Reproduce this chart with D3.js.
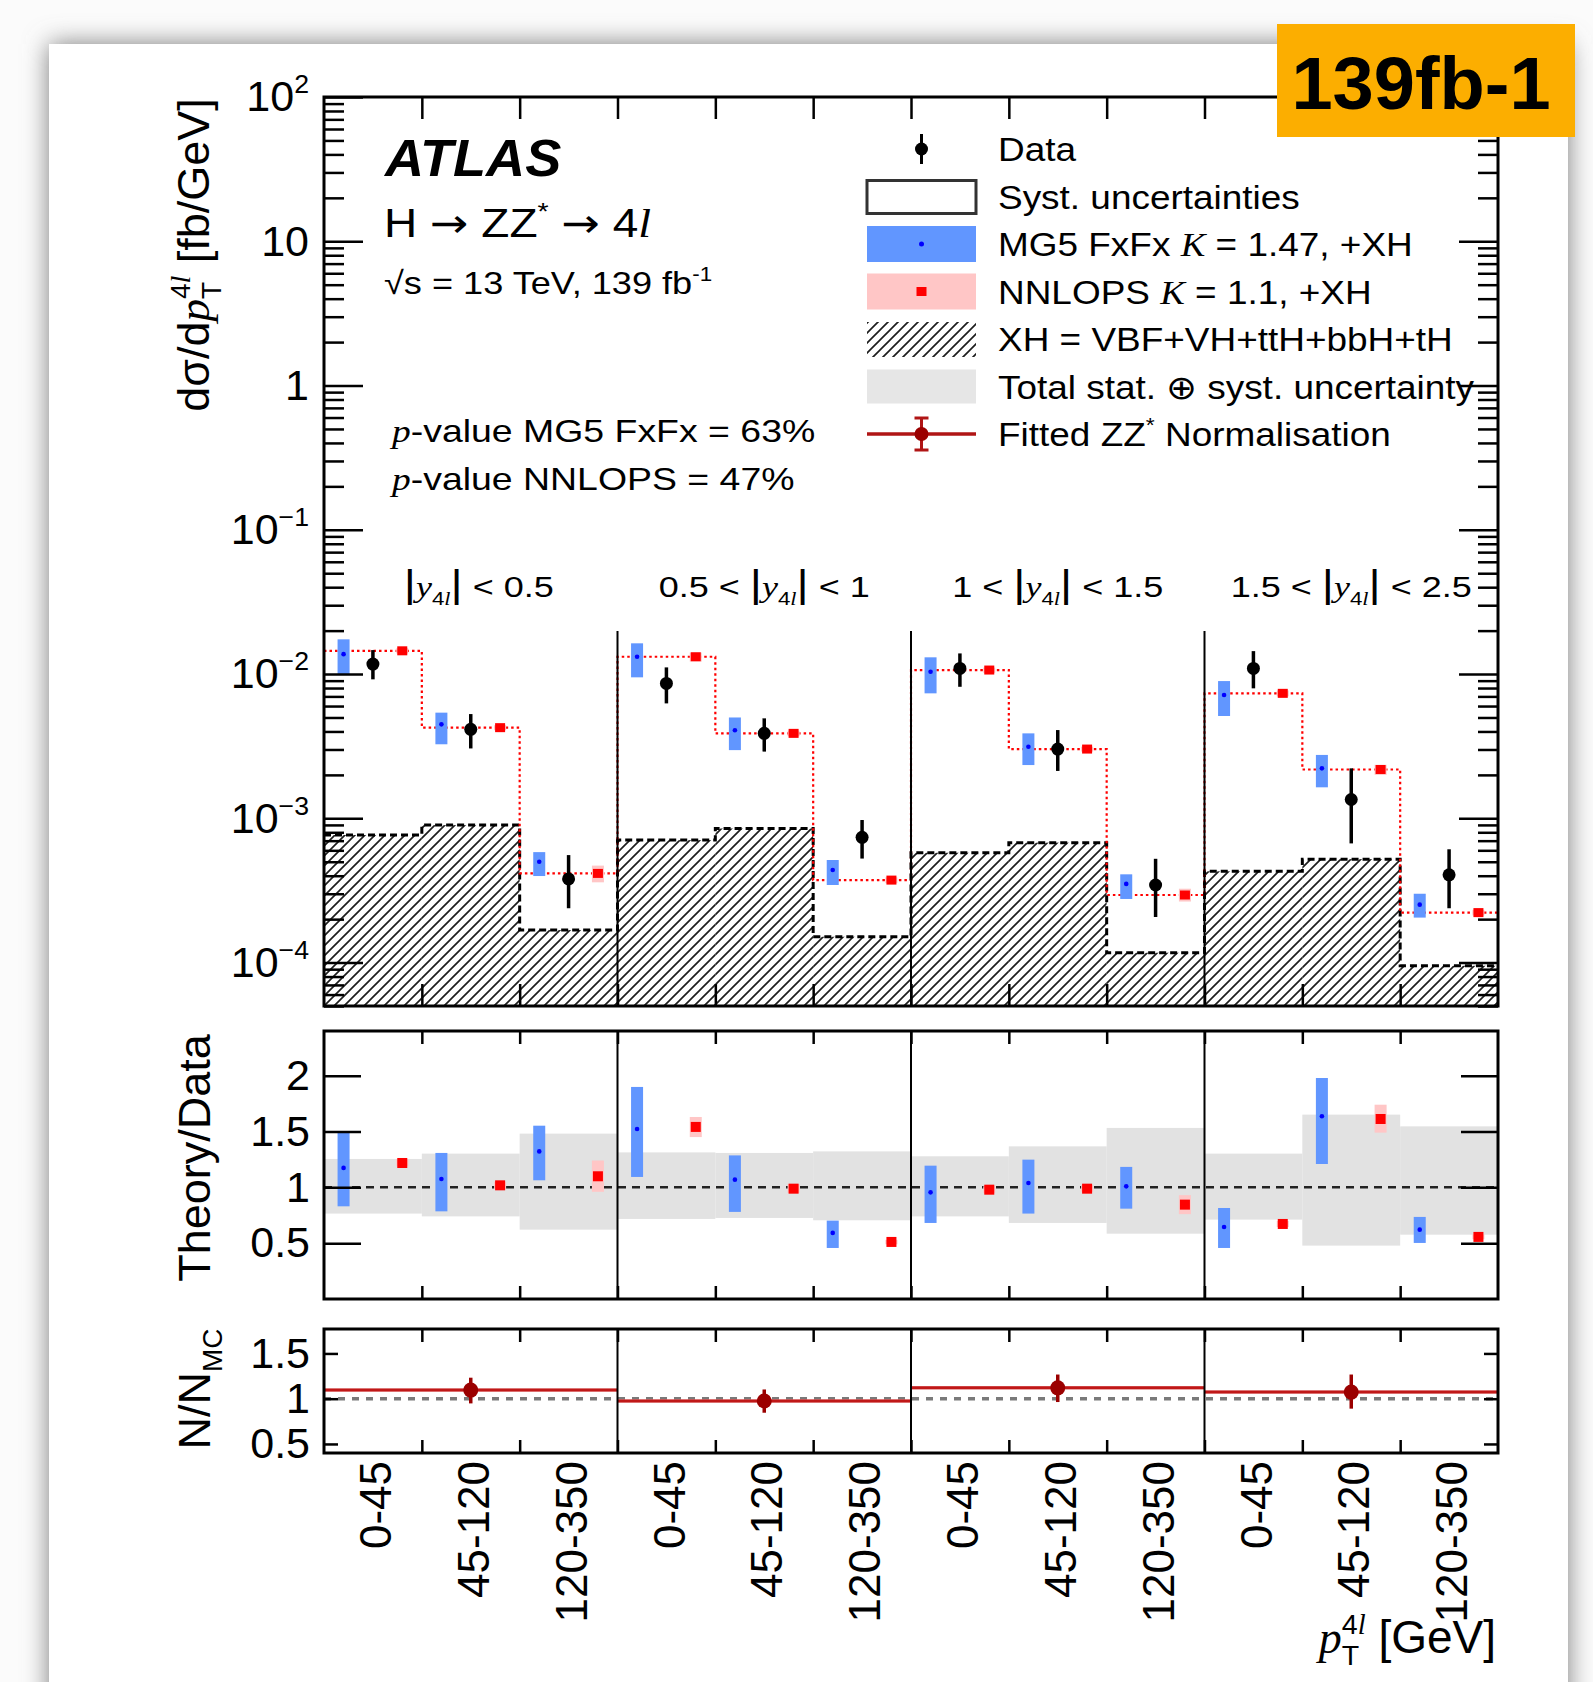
<!DOCTYPE html>
<html>
<head>
<meta charset="utf-8">
<title>ATLAS H to ZZ* to 4l, pT4l in |y4l| slices</title>
<script src="https://cdn.jsdelivr.net/npm/d3@7"></script>
<style>
  body { margin: 0; background: #fbfbfb; }
  svg { display: block; }
</style>
</head>
<body>
<svg id="chart" width="1593" height="1682"></svg>
<script>
// Bin layout: 4 rapidity slices, 3 pT bins each.
const rapidityLow = ["", "0.5", "1", "1.5"];
const rapidityHigh = ["0.5", "1", "1.5", "2.5"];
const ptBins = ["0-45", "45-120", "120-350"];

// Measured d(sigma)/dpT [fb/GeV] and total uncertainty band.
const dataVal = [0.01173, 4.14e-3, 3.8e-4, 8.61e-3, 3.88e-3, 7.38e-4, 0.01094, 3.02e-3, 3.45e-4, 0.01094, 1.35e-3, 4.06e-4];
const dataHi  = [0.01466, 5.28e-3, 5.56e-4, 0.01112, 4.93e-3, 9.73e-4, 0.0139, 4.09e-3, 5.24e-4, 0.01442, 2.22e-3, 6.1e-4];
const dataLo  = [0.00919, 3.05e-3, 2.38e-4, 6.26e-3, 2.9e-3, 5.26e-4, 8.16e-3, 2.13e-3, 2.07e-4, 7.96e-3, 6.7e-4, 2.38e-4];

// MG5 FxFx prediction.
const mg5Val = [0.01374, 4.48e-3, 5.0e-4, 0.01318, 4.08e-3, 4.38e-4, 0.01037, 3.13e-3, 3.51e-4, 7.15e-3, 2.22e-3, 2.52e-4];
const mg5Hi  = [0.0174, 5.4e-3, 5.83e-4, 0.01633, 5.0e-3, 5.14e-4, 0.01306, 3.88e-3, 4.09e-4, 8.94e-3, 2.75e-3, 3.0e-4];
const mg5Lo  = [0.00984, 3.26e-3, 3.98e-4, 0.00949, 2.97e-3, 3.45e-4, 7.35e-3, 2.34e-3, 2.76e-4, 5.12e-3, 1.64e-3, 2.05e-4];

// NNLOPS prediction.
const nnlopsVal = [0.01449, 4.25e-3, 4.15e-4, 0.01318, 3.88e-3, 3.73e-4, 0.01066, 3.02e-3, 2.94e-4, 7.35e-3, 2.18e-3, 2.22e-4];
const nnlopsHi  = [0.0151, 4.42e-3, 4.7e-4, 0.0141, 4.05e-3, 3.9e-4, 0.0111, 3.14e-3, 3.25e-4, 7.7e-3, 2.35e-3, 2.32e-4];
const nnlopsLo  = [0.0139, 4.08e-3, 3.6e-4, 0.0122, 3.71e-3, 3.55e-4, 0.0102, 2.9e-3, 2.65e-4, 7.0e-3, 2.0e-3, 2.12e-4];

// XH = VBF+VH+ttH+bbH+tH contribution.
const xhVal = [7.66e-4, 8.97e-4, 1.68e-4, 7.06e-4, 8.5e-4, 1.51e-4, 5.77e-4, 6.78e-4, 1.17e-4, 4.29e-4, 5.21e-4, 9.5e-5];

// Theory/Data ratio panel.
const mg5Ratio   = [1.174, 1.075, 1.322, 1.523, 1.069, 0.592, 0.955, 1.039, 1.009, 0.645, 1.636, 0.621];
const mg5RatioHi = [1.487, 1.308, 1.552, 1.899, 1.286, 0.702, 1.194, 1.248, 1.183, 0.815, 1.979, 0.735];
const mg5RatioLo = [0.83, 0.785, 1.063, 1.093, 0.78, 0.457, 0.681, 0.765, 0.809, 0.457, 1.209, 0.502];
const nnlopsRatio   = [1.218, 1.018, 1.099, 1.541, 0.988, 0.511, 0.979, 0.988, 0.845, 0.672, 1.612, 0.556];
const nnlopsRatioHi = [1.25, 1.05, 1.24, 1.63, 1.03, 0.53, 1.01, 1.02, 0.93, 0.70, 1.74, 0.58];
const nnlopsRatioLo = [1.19, 0.985, 0.96, 1.45, 0.95, 0.49, 0.95, 0.96, 0.76, 0.645, 1.49, 0.535];
const totUncHi = [1.254, 1.302, 1.481, 1.313, 1.308, 1.322, 1.278, 1.367, 1.532, 1.302, 1.651, 1.546];
const totUncLo = [0.765, 0.74, 0.621, 0.717, 0.726, 0.705, 0.74, 0.681, 0.585, 0.711, 0.478, 0.576];

// Fitted ZZ* normalisation per rapidity slice.
const normVal = [1.095, 0.974, 1.12, 1.073];
const normHi  = [1.232, 1.102, 1.267, 1.267];
const normLo  = [0.948, 0.845, 0.963, 0.89];

// Tick values.
const mainMajor = [1e-4, 1e-3, 1e-2, 1e-1, 1, 10, 100];
const ratioTicks = [0.5, 1, 1.5, 2];
const normTicks = [0.5, 1, 1.5];

const legendLabels = [
  [["Data"]],
  [["Syst. uncertainties"]],
  [["MG5 FxFx "], ["K", "i"], [" = 1.47, +XH"]],
  [["NNLOPS "], ["K", "i"], [" = 1.1, +XH"]],
  [["XH = VBF+VH+ttH+bbH+tH"]],
  [["Total stat. \u2295 syst. uncertainty"]],
  [["Fitted ZZ"], ["*", "sup"], [" Normalisation"]]
];

const W = 1593, H = 1682;
const SANS = "'Liberation Sans', Arial, Helvetica, sans-serif";
const SERIF = "'Liberation Serif', 'Times New Roman', serif";
const BLUE = "#6196ff", PINK = "#ffc6c6", GREY = "#e2e2e2", DARKRED = "#9b0000";
const nBins = rapidityLow.length * ptBins.length;
const xTickLabels = d3.range(nBins).map(i => ptBins[i % ptBins.length]);

const frame = { left: 324, right: 1498 };
const mainBox = { top: 97, bottom: 1006 };
const ratioBox = { top: 1031, bottom: 1299 };
const normBox = { top: 1329, bottom: 1453 };

const x = d3.scaleLinear().domain([0, nBins]).range([frame.left, frame.right]);
const yMain = d3.scaleLog().domain([5e-5, 100]).range([mainBox.bottom, mainBox.top]);
const yRatio = d3.scaleLinear().domain([0, 2.4]).range([ratioBox.bottom, ratioBox.top]);
const yNorm = d3.scaleLinear().domain([0.4, 1.77]).range([normBox.bottom, normBox.top]);
const binW = x(1) - x(0);
const mgOff = 0.2, dataOff = 0.5, nnOff = 0.8;

// Appends tspans. Style flags: "i" italic serif, "sup"/"sub" small shifted,
// "arrow" wide arrow glyph, "bar" tall vertical bar.
function addRich(textSel, parts, fs) {
  let shift = 0;
  parts.forEach(([t, style = "", dx]) => {
    const ts = textSel.append("tspan").text(t).attr("font-style", "normal");
    let target = 0, size = fs;
    if (style === "arrow") ts.attr("font-family", "'DejaVu Sans', sans-serif");
    else if (style === "bar") size = 1.3 * fs;
    else {
      if (style.includes("i")) ts.attr("font-family", SERIF).attr("font-style", "italic");
      if (style.includes("sup")) { target = -0.42 * fs; size = 0.62 * fs; }
      if (style.includes("sub")) { target = 0.26 * fs; size = 0.62 * fs; }
    }
    ts.attr("font-size", size);
    if (target !== shift) ts.attr("dy", target - shift);
    if (dx !== undefined) ts.attr("dx", dx);
    shift = target;
  });
}

function label(parent, px, py, parts, fs, opts = {}) {
  const g = parent.append("g")
    .attr("transform", `translate(${px},${py}) rotate(${opts.rotate || 0}) scale(${opts.sx || 1},1)`);
  const t = g.append("text").attr("font-size", fs)
    .attr("text-anchor", opts.anchor || "start")
    .attr("font-weight", opts.weight || "normal");
  addRich(t, parts, fs);
  if (opts.style) t.selectAll("tspan").attr("font-style", opts.style);
  return t;
}

const svg = d3.select("#chart").attr("font-family", SANS);
const defs = svg.append("defs");
defs.append("filter").attr("id", "shadow")
  .attr("x", "-5%").attr("y", "-5%").attr("width", "110%").attr("height", "110%")
  .append("feGaussianBlur").attr("stdDeviation", 13);
const hatch = defs.append("pattern").attr("id", "hatch")
  .attr("patternUnits", "userSpaceOnUse").attr("width", 10).attr("height", 10);
hatch.append("path").attr("d", "M-2,2 L2,-2 M0,10 L10,0 M8,12 L12,8")
  .attr("stroke", "#1e1e1e").attr("stroke-width", 1.7);

// Page and card with shadow.
svg.append("rect").attr("width", W).attr("height", H).attr("fill", "#fbfbfb");
svg.append("rect").attr("x", 49).attr("y", 44).attr("width", 1519).attr("height", 1720)
  .attr("fill", "#7a7a7a").attr("filter", "url(#shadow)");
svg.append("rect").attr("x", 49).attr("y", 44).attr("width", 1519).attr("height", 1720).attr("fill", "#fff");

// ---------------- main panel ----------------
const gMain = svg.append("g");
gMain.selectAll(".xh").data(xhVal).join("rect")
  .attr("x", (d, i) => x(i)).attr("width", binW)
  .attr("y", d => yMain(d)).attr("height", d => mainBox.bottom - yMain(d))
  .attr("fill", "url(#hatch)");

const stepPoints = vals => vals.map((v, i) => [i, v]).concat([[vals.length, vals[vals.length - 1]]]);
const stepLine = d3.line().x(d => x(d[0])).y(d => yMain(d[1])).curve(d3.curveStepAfter);

gMain.append("path").attr("d", stepLine(stepPoints(xhVal)))
  .attr("fill", "none").attr("stroke", "#000").attr("stroke-width", 3).attr("stroke-dasharray", "7 4");
gMain.append("path").attr("d", stepLine(stepPoints(nnlopsVal)))
  .attr("fill", "none").attr("stroke", "#ff0000").attr("stroke-width", 2.2).attr("stroke-dasharray", "2.5 3");

gMain.selectAll(".mg5").data(mg5Val).join("rect")
  .attr("x", (d, i) => x(i + mgOff) - 6).attr("width", 12)
  .attr("y", (d, i) => yMain(mg5Hi[i])).attr("height", (d, i) => yMain(mg5Lo[i]) - yMain(mg5Hi[i]))
  .attr("fill", BLUE);
gMain.selectAll(".mg5dot").data(mg5Val).join("circle")
  .attr("cx", (d, i) => x(i + mgOff)).attr("cy", d => yMain(d)).attr("r", 2.3).attr("fill", "#0000ff");

gMain.selectAll(".nnband").data(nnlopsVal).join("rect")
  .attr("x", (d, i) => x(i + nnOff) - 6).attr("width", 12)
  .attr("y", (d, i) => yMain(nnlopsHi[i])).attr("height", (d, i) => yMain(nnlopsLo[i]) - yMain(nnlopsHi[i]))
  .attr("fill", PINK);
gMain.selectAll(".nn").data(nnlopsVal).join("rect")
  .attr("x", (d, i) => x(i + nnOff) - 5).attr("width", 10)
  .attr("y", d => yMain(d) - 4.5).attr("height", 9).attr("fill", "#ff0000");

gMain.selectAll(".derr").data(dataVal).join("line")
  .attr("x1", (d, i) => x(i + dataOff)).attr("x2", (d, i) => x(i + dataOff))
  .attr("y1", (d, i) => yMain(dataHi[i])).attr("y2", (d, i) => yMain(dataLo[i]))
  .attr("stroke", "#000").attr("stroke-width", 3.5);
gMain.selectAll(".dpt").data(dataVal).join("circle")
  .attr("cx", (d, i) => x(i + dataOff)).attr("cy", d => yMain(d)).attr("r", 6.5).attr("fill", "#000");

// slice separators and labels
const sliceEdges = d3.range(1, rapidityLow.length).map(p => p * ptBins.length);
gMain.selectAll(".sep").data(sliceEdges).join("line")
  .attr("x1", d => x(d)).attr("x2", d => x(d)).attr("y1", 631).attr("y2", mainBox.bottom)
  .attr("stroke", "#000").attr("stroke-width", 2);

rapidityLow.forEach((lo, p) => {
  const parts = [[lo ? lo + " < " : ""], ["|", "bar"], ["y", "i"], ["4", "sub"], ["l", "subi"], ["|", "bar"], [" < " + rapidityHigh[p]]];
  label(gMain, x(p * 3 + 1.5) + (p === 0 ? 8 : 0), 597, parts, 30, { anchor: "middle", sx: 1.2 });
});

// axes of main panel
function styleAxis(g) {
  g.select(".domain").remove();
  g.selectAll(".tick line").attr("stroke", "#000").attr("stroke-width", 2.5);
  g.attr("font-family", SANS).attr("font-size", 43);
}
const minorLog = [];
for (let e = -5; e < 2; e++) for (let m = 2; m <= 9; m++) {
  const v = m * Math.pow(10, e);
  if (v >= 5e-5 && v <= 100) minorLog.push(v);
}
const gYL = svg.append("g").attr("transform", `translate(${frame.left},0)`)
  .call(d3.axisLeft(yMain).tickValues(mainMajor).tickSizeInner(-39).tickSizeOuter(0).tickPadding(15).tickFormat(""));
styleAxis(gYL);
gYL.selectAll(".tick text").each(function (d) {
  const e = Math.round(Math.log10(d));
  const t = d3.select(this);
  if (e === 0) addRich(t, [["1"]], 43);
  else if (e === 1) addRich(t, [["10"]], 43);
  else addRich(t, [["10"], [e < 0 ? "\u2212" + (-e) : String(e), "sup"]], 43);
});
svg.append("g").attr("transform", `translate(${frame.left},0)`)
  .call(d3.axisLeft(yMain).tickValues(minorLog).tickSizeInner(-20).tickSizeOuter(0).tickFormat(""))
  .call(styleAxis);
svg.append("g").attr("transform", `translate(${frame.right},0)`)
  .call(d3.axisRight(yMain).tickValues(mainMajor).tickSizeInner(-39).tickSizeOuter(0).tickFormat(""))
  .call(styleAxis);
svg.append("g").attr("transform", `translate(${frame.right},0)`)
  .call(d3.axisRight(yMain).tickValues(minorLog).tickSizeInner(-20).tickSizeOuter(0).tickFormat(""))
  .call(styleAxis);

const binEdges = d3.range(1, nBins);
function edgeTicks(yTop, yBottom, len) {
  svg.append("g").attr("transform", `translate(0,${yBottom})`)
    .call(d3.axisBottom(x).tickValues(binEdges).tickSizeInner(-len).tickSizeOuter(0).tickFormat(""))
    .call(styleAxis);
  svg.append("g").attr("transform", `translate(0,${yTop})`)
    .call(d3.axisTop(x).tickValues(binEdges).tickSizeInner(-len).tickSizeOuter(0).tickFormat(""))
    .call(styleAxis);
}
edgeTicks(mainBox.top, mainBox.bottom, 22);

svg.append("rect").attr("x", frame.left).attr("y", mainBox.top)
  .attr("width", frame.right - frame.left).attr("height", mainBox.bottom - mainBox.top)
  .attr("fill", "none").attr("stroke", "#000").attr("stroke-width", 3);

// ---------------- ratio panel ----------------
const gRatio = svg.append("g");
gRatio.selectAll(".tot").data(totUncHi).join("rect")
  .attr("x", (d, i) => x(i)).attr("width", binW)
  .attr("y", d => yRatio(d)).attr("height", (d, i) => yRatio(totUncLo[i]) - yRatio(d))
  .attr("fill", GREY);
gRatio.append("line").attr("x1", frame.left).attr("x2", frame.right)
  .attr("y1", yRatio(1)).attr("y2", yRatio(1))
  .attr("stroke", "#222").attr("stroke-width", 2.5).attr("stroke-dasharray", "8 6");
gRatio.selectAll(".mg5r").data(mg5Ratio).join("rect")
  .attr("x", (d, i) => x(i + mgOff) - 6).attr("width", 12)
  .attr("y", (d, i) => yRatio(mg5RatioHi[i])).attr("height", (d, i) => yRatio(mg5RatioLo[i]) - yRatio(mg5RatioHi[i]))
  .attr("fill", BLUE);
gRatio.selectAll(".mg5rdot").data(mg5Ratio).join("circle")
  .attr("cx", (d, i) => x(i + mgOff)).attr("cy", d => yRatio(d)).attr("r", 2.3).attr("fill", "#0000ff");
gRatio.selectAll(".nnrband").data(nnlopsRatio).join("rect")
  .attr("x", (d, i) => x(i + nnOff) - 6).attr("width", 12)
  .attr("y", (d, i) => yRatio(nnlopsRatioHi[i])).attr("height", (d, i) => yRatio(nnlopsRatioLo[i]) - yRatio(nnlopsRatioHi[i]))
  .attr("fill", PINK);
gRatio.selectAll(".nnr").data(nnlopsRatio).join("rect")
  .attr("x", (d, i) => x(i + nnOff) - 5).attr("width", 10)
  .attr("y", d => yRatio(d) - 5).attr("height", 10).attr("fill", "#ff0000");
gRatio.selectAll(".sep").data(sliceEdges).join("line")
  .attr("x1", d => x(d)).attr("x2", d => x(d)).attr("y1", ratioBox.top).attr("y2", ratioBox.bottom)
  .attr("stroke", "#000").attr("stroke-width", 2);

const gRL = svg.append("g").attr("transform", `translate(${frame.left},0)`)
  .call(d3.axisLeft(yRatio).tickValues(ratioTicks).tickSizeInner(-37).tickSizeOuter(0).tickPadding(14).tickFormat(d => String(d)));
styleAxis(gRL);
svg.append("g").attr("transform", `translate(${frame.right},0)`)
  .call(d3.axisRight(yRatio).tickValues(ratioTicks).tickSizeInner(-37).tickSizeOuter(0).tickFormat(""))
  .call(styleAxis);
edgeTicks(ratioBox.top, ratioBox.bottom, 13);
svg.append("rect").attr("x", frame.left).attr("y", ratioBox.top)
  .attr("width", frame.right - frame.left).attr("height", ratioBox.bottom - ratioBox.top)
  .attr("fill", "none").attr("stroke", "#000").attr("stroke-width", 3);

// ---------------- normalisation panel ----------------
const gNorm = svg.append("g");
const slices = d3.range(rapidityLow.length);
gNorm.append("line").attr("x1", frame.left).attr("x2", frame.right)
  .attr("y1", yNorm(1)).attr("y2", yNorm(1))
  .attr("stroke", "#7a7a7a").attr("stroke-width", 3.5).attr("stroke-dasharray", "7 7");
gNorm.selectAll(".nband").data(slices).join("rect")
  .attr("x", p => x(p * 3)).attr("width", binW * 3)
  .attr("y", p => yNorm(normVal[p] + 0.018)).attr("height", p => yNorm(normVal[p] - 0.018) - yNorm(normVal[p] + 0.018))
  .attr("fill", "#f3b0b0");
gNorm.selectAll(".nline").data(slices).join("line")
  .attr("x1", p => x(p * 3)).attr("x2", p => x(p * 3 + 3))
  .attr("y1", p => yNorm(normVal[p])).attr("y2", p => yNorm(normVal[p]))
  .attr("stroke", "#c01818").attr("stroke-width", 3);
gNorm.selectAll(".nerr").data(slices).join("line")
  .attr("x1", p => x(p * 3 + 1.5)).attr("x2", p => x(p * 3 + 1.5))
  .attr("y1", p => yNorm(normHi[p])).attr("y2", p => yNorm(normLo[p]))
  .attr("stroke", DARKRED).attr("stroke-width", 3.5);
gNorm.selectAll(".npt").data(slices).join("circle")
  .attr("cx", p => x(p * 3 + 1.5)).attr("cy", p => yNorm(normVal[p])).attr("r", 7.5).attr("fill", DARKRED);
gNorm.selectAll(".sep").data(sliceEdges).join("line")
  .attr("x1", d => x(d)).attr("x2", d => x(d)).attr("y1", normBox.top).attr("y2", normBox.bottom)
  .attr("stroke", "#000").attr("stroke-width", 2);

const gNL = svg.append("g").attr("transform", `translate(${frame.left},0)`)
  .call(d3.axisLeft(yNorm).tickValues(normTicks).tickSizeInner(-14).tickSizeOuter(0).tickPadding(14).tickFormat(d => String(d)));
styleAxis(gNL);
svg.append("g").attr("transform", `translate(${frame.right},0)`)
  .call(d3.axisRight(yNorm).tickValues(normTicks).tickSizeInner(-14).tickSizeOuter(0).tickFormat(""))
  .call(styleAxis);
edgeTicks(normBox.top, normBox.bottom, 13);
svg.append("rect").attr("x", frame.left).attr("y", normBox.top)
  .attr("width", frame.right - frame.left).attr("height", normBox.bottom - normBox.top)
  .attr("fill", "none").attr("stroke", "#000").attr("stroke-width", 3);

// x tick labels (rotated, at bin centres)
const gX = svg.append("g").attr("transform", `translate(0,${normBox.bottom})`)
  .call(d3.axisBottom(x).tickValues(d3.range(nBins).map(i => i + 0.5)).tickSize(0)
    .tickFormat(d => xTickLabels[Math.floor(d)]));
styleAxis(gX);
gX.attr("font-size", 44);
gX.selectAll(".tick text").attr("transform", "rotate(-90)")
  .attr("x", -8).attr("y", 0).attr("dy", "0.4em").attr("text-anchor", "end");

// ---------------- axis titles ----------------
const titles = svg.append("g").attr("fill", "#000");
label(titles, 209, 255, [["d\u03c3/d"], ["p", "i"], ["T", "sub"], ["4", "sup", -0.611 * 0.62 * 45], ["l", "supi"], [" [fb/GeV]"]], 45, { anchor: "middle", rotate: -90 });
label(titles, 210, 1158, [["Theory/Data"]], 45, { anchor: "middle", rotate: -90 });
label(titles, 210, 1389, [["N/N"], ["MC", "sub"]], 45, { anchor: "middle", rotate: -90 });
label(titles, 1496, 1653, [["p", "i"], ["T", "sub"], ["4", "sup", -0.611 * 0.62 * 46], ["l", "supi"], [" [GeV]"]], 46, { anchor: "end" });

// ---------------- annotations ----------------
label(svg, 385, 176, [["ATLAS"]], 52, { weight: "bold", style: "italic", sx: 1.04 });
label(svg, 384, 237, [["H "], ["\u2192", "arrow"], [" ZZ"], ["*", "sup"], [" "], ["\u2192", "arrow"], [" 4"], ["l", "i"]], 40, { sx: 1.15 });
label(svg, 384, 294, [["\u221As = 13 TeV, 139 fb"], ["-1", "sup"]], 32, { sx: 1.13 });
label(svg, 392, 442, [["p", "i"], ["-value MG5 FxFx = 63%"]], 32, { sx: 1.17 });
label(svg, 392, 490, [["p", "i"], ["-value NNLOPS = 47%"]], 32, { sx: 1.17 });

// ---------------- legend ----------------
const legX0 = 867, legX1 = 976, legCx = (legX0 + legX1) / 2, legTextX = 998;
const legRows = legendLabels.map((parts, i) => ({ parts, y: 149 + i * 47.5 }));
const gLeg = svg.append("g");
legRows.forEach(r => label(gLeg, legTextX, r.y + 12, r.parts, 33, { sx: 1.12 }));
const ly = i => legRows[i].y;
gLeg.append("line").attr("x1", legCx).attr("x2", legCx).attr("y1", ly(0) - 15).attr("y2", ly(0) + 15)
  .attr("stroke", "#000").attr("stroke-width", 3);
gLeg.append("circle").attr("cx", legCx).attr("cy", ly(0)).attr("r", 6.5).attr("fill", "#000");
gLeg.append("rect").attr("x", legX0).attr("y", ly(1) - 16).attr("width", legX1 - legX0).attr("height", 33)
  .attr("fill", "#fff").attr("stroke", "#333").attr("stroke-width", 3);
gLeg.append("rect").attr("x", legX0).attr("y", ly(2) - 18).attr("width", legX1 - legX0).attr("height", 36).attr("fill", BLUE);
gLeg.append("circle").attr("cx", legCx).attr("cy", ly(2)).attr("r", 2.5).attr("fill", "#0000ff");
gLeg.append("rect").attr("x", legX0).attr("y", ly(3) - 18).attr("width", legX1 - legX0).attr("height", 36).attr("fill", PINK);
gLeg.append("rect").attr("x", legCx - 5).attr("y", ly(3) - 4.5).attr("width", 10).attr("height", 9).attr("fill", "#ff0000");
gLeg.append("rect").attr("x", legX0).attr("y", ly(4) - 17).attr("width", legX1 - legX0).attr("height", 35).attr("fill", "url(#hatch)");
gLeg.append("rect").attr("x", legX0).attr("y", ly(5) - 17).attr("width", legX1 - legX0).attr("height", 34).attr("fill", "#e6e6e6");
gLeg.append("line").attr("x1", legX0).attr("x2", legX1).attr("y1", ly(6)).attr("y2", ly(6))
  .attr("stroke", "#b01515").attr("stroke-width", 3.5);
gLeg.append("line").attr("x1", legCx).attr("x2", legCx).attr("y1", ly(6) - 16).attr("y2", ly(6) + 16)
  .attr("stroke", "#b01515").attr("stroke-width", 3);
[-16, 16].forEach(o => gLeg.append("line").attr("x1", legCx - 7).attr("x2", legCx + 7)
  .attr("y1", ly(6) + o).attr("y2", ly(6) + o).attr("stroke", "#b01515").attr("stroke-width", 3));
gLeg.append("circle").attr("cx", legCx).attr("cy", ly(6)).attr("r", 7).attr("fill", DARKRED);

// ---------------- luminosity badge ----------------
svg.append("rect").attr("x", 1277).attr("y", 24).attr("width", 298).attr("height", 113).attr("fill", "#fcae00");
svg.append("text").attr("x", 1421).attr("y", 109).attr("text-anchor", "middle")
  .attr("font-size", 74).attr("font-weight", "bold").attr("fill", "#000").text("139fb-1");
</script>
</body>
</html>
